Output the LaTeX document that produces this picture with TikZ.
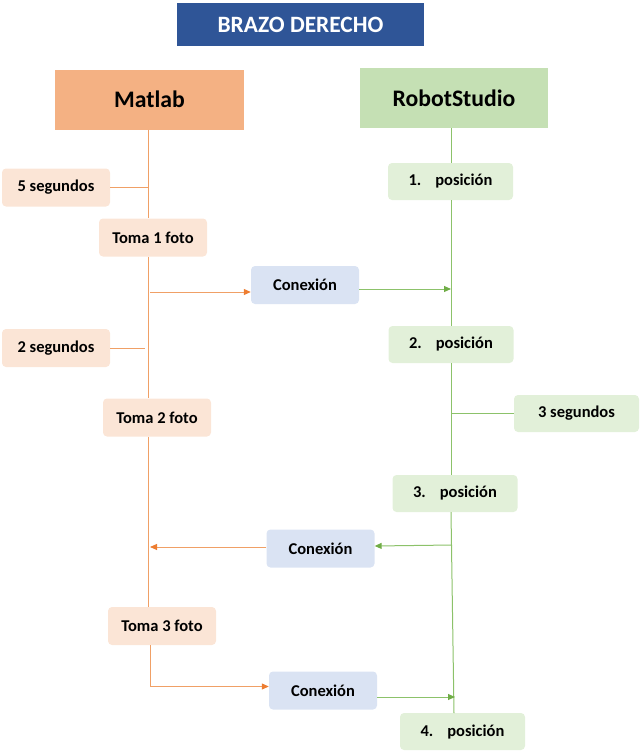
\documentclass[tikz,border=0pt]{standalone}
\usepackage{fontspec}
\setmainfont{Carlito}
\usetikzlibrary{arrows.meta,calc}
\definecolor{titleblue}{HTML}{2F5597}
\definecolor{matfill}{HTML}{F4B183}
\definecolor{leftfill}{HTML}{FBE5D6}
\definecolor{robfill}{HTML}{C5E0B4}
\definecolor{rightfill}{HTML}{E2F0D9}
\definecolor{confill}{HTML}{DAE3F3}
\definecolor{oline}{HTML}{F0A066}
\definecolor{gline}{HTML}{8CC26A}
\definecolor{oarrow}{HTML}{ED7D31}
\definecolor{garrow}{HTML}{70AD47}
\tikzset{
  box/.style={inner sep=0pt, align=center, font=\bfseries\fontsize{16.5}{19}\selectfont, text=black},
  leftbox/.style={box, fill=leftfill, rounded corners=4pt, minimum width=108pt, minimum height=38pt},
  rightbox/.style={box, fill=rightfill, rounded corners=4pt, minimum width=125pt, minimum height=37pt},
  conbox/.style={box, fill=confill, rounded corners=4pt, minimum width=108pt, minimum height=38pt},
  headbox/.style={box, font=\bfseries\fontsize{23.7}{27}\selectfont, minimum width=189pt, minimum height=60pt},
  oln/.style={draw=oline, line width=1pt},
  gln/.style={draw=gline, line width=1pt},
  oarr/.style={draw=oline, line width=1pt, -{Triangle[length=7pt,width=6pt,color=oarrow]}},
  garr/.style={draw=gline, line width=1pt, -{Triangle[length=7pt,width=6pt,color=garrow]}}
}
\begin{document}
\begin{tikzpicture}[x=1pt,y=-1pt]
\useasboundingbox (0,0) rectangle (640,753);
\node[box, fill=titleblue, text=white, font=\bfseries\fontsize{23.4}{27}\selectfont, minimum width=247pt, minimum height=43pt] (title) at (300.5,24.5) {BRAZO DERECHO};
\node[headbox, fill=matfill] (matlab) at (149.5,99.5) {Matlab};
\node[headbox, fill=robfill, minimum width=188pt] (robot) at (454,98) {RobotStudio};

\coordinate (L) at (148,0);
\coordinate (R) at (451,0);

\node[leftbox] (seg5) at (56,187.5) {5 segundos};
\node[leftbox] (toma1) at (153,237.5) {Toma 1 foto};
\node[conbox] (con1) at (305,285) {Conexión};
\node[leftbox] (seg2) at (56,348) {2 segundos};
\node[leftbox] (toma2) at (157,417.5) {Toma 2 foto};
\node[conbox] (con2) at (320.5,548.5) {Conexión};
\node[leftbox] (toma3) at (162,626) {Toma 3 foto};
\node[conbox] (con3) at (323,690.5) {Conexión};

\node[rightbox] (pos1) at (450.5,181.5) {1.\hspace{14pt}posición};
\node[rightbox] (pos2) at (451,344.5) {2.\hspace{14pt}posición};
\node[rightbox] (seg3) at (576.5,413.5) {3 segundos};
\node[rightbox] (pos3) at (455,493.5) {3.\hspace{14pt}posición};
\node[rightbox] (pos4) at (462.5,731.5) {4.\hspace{14pt}posición};

% Matlab timeline
\draw[oln] (matlab.south -| L) -- (toma1.north -| L);
\draw[oln] (seg5.east) -- (seg5.east -| L);
\draw[oln] (toma1.south -| L) -- (toma2.north -| L);
\draw[oarr] (150,292) -- (con1.west |- 0,292);
\draw[oln] (seg2.east) -- ($(seg2.east -| L)+(-3,0)$);
\draw[oln] (toma2.south -| L) -- (toma3.north -| L);
\draw[oarr] (con2.west |- 0,547) -- (150,547);
\draw[oln] (150,645) -- (150,686.5);
\draw[oarr] (150,686.5) -- (con3.west |- 0,686.5);

% RobotStudio timeline
\draw[gln] (robot.south -| R) -- (pos1.north -| R);
\draw[gln] (pos1.south -| R) -- (pos2.north -| R);
\draw[garr] (con1.east |- 0,289) -- (451,289);
\draw[gln] (pos2.south -| R) -- (pos3.north -| R);
\draw[gln] (452,413.5) -- (seg3.west);
\draw[gln] (pos3.south -| R) -- (454,713);
\draw[garr] (452,545) -- (con2.east |- 0,546);
\draw[garr] (con3.east |- 0,697) -- (455,697);
\end{tikzpicture}
\end{document}
